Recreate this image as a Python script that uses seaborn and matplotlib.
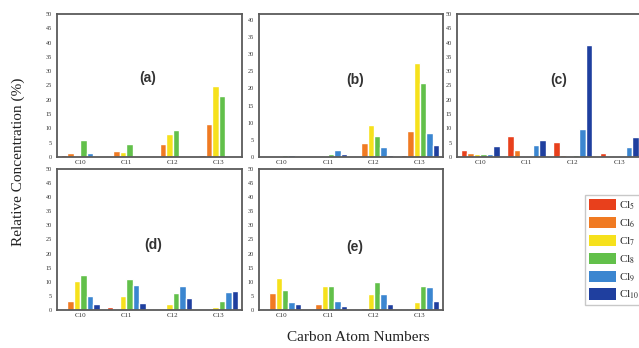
import matplotlib
matplotlib.use("Agg")
import matplotlib.pyplot as plt
from matplotlib.patches import Patch
from matplotlib.ticker import MultipleLocator, FixedLocator
import seaborn as sns
import pandas as pd

# --- datos ---
carbons = ["C10", "C11", "C12", "C13"]
chlorines = ["Cl5", "Cl6", "Cl7", "Cl8", "Cl9", "Cl10"]
legend_labels = ["Cl$_5$", "Cl$_6$", "Cl$_7$", "Cl$_8$", "Cl$_9$", "Cl$_{10}$"]
colors = ["#e8401c", "#f07a22", "#f6e11c", "#62c04a", "#3b86d0", "#1f3f9f"]

# valores por cloro (filas) x carbono (columnas)
vals_a = [[0.8, 0.4, 0.5, 0.7],
          [1.4, 2.1, 4.7, 11.6],
          [0.3, 1.7, 8.2, 24.9],
          [6.0, 4.4, 9.3, 21.3],
          [1.3, 0.0, 0.0, 0.0],
          [0.0, 0.0, 0.0, 0.0]]
vals_b = [[0.0, 0.3, 0.4, 0.5],
          [0.0, 0.3, 4.1, 7.5],
          [0.1, 0.4, 9.2, 27.4],
          [0.5, 0.9, 6.0, 21.6],
          [0.7, 1.9, 2.9, 7.1],
          [0.1, 0.8, 0.5, 3.5]]
vals_c = [[2.6, 7.4, 5.3, 1.5],
          [1.5, 2.3, 0.6, 0.4],
          [0.9, 0.0, 0.0, 0.0],
          [1.0, 0.4, 0.8, 0.2],
          [1.2, 4.3, 9.9, 3.5],
          [3.9, 6.1, 39.1, 7.0]]
vals_d = [[0.2, 0.9, 0.2, 0.0],
          [3.3, 0.1, 0.2, 0.0],
          [10.4, 5.1, 2.1, 1.2],
          [12.4, 11.0, 6.2, 3.3],
          [5.1, 8.9, 8.6, 6.5],
          [2.1, 2.6, 4.1, 6.8]]
vals_e = [[0.5, 0.3, 0.3, 0.3],
          [5.9, 2.1, 0.6, 0.0],
          [11.5, 8.6, 5.7, 3.0],
          [7.1, 8.6, 9.8, 8.6],
          [2.7, 3.3, 5.7, 8.3],
          [2.1, 1.5, 2.1, 3.3]]

panels = [
    ("(a)", vals_a, [0.0892, 0.5489, 0.2895, 0.4109], 50, (0.49, 0.55)),
    ("(b)", vals_b, [0.4053, 0.5489, 0.2880, 0.4109], 41.7, (0.52, 0.54)),
    ("(c)", vals_c, [0.7152, 0.5489, 0.2900, 0.4109], 50, (0.55, 0.54)),
    ("(d)", vals_d, [0.0892, 0.1092, 0.2895, 0.4052], 50, (0.52, 0.46)),
    ("(e)", vals_e, [0.4053, 0.1092, 0.2880, 0.4052], 50, (0.52, 0.45)),
]


def to_frame(vals):
    rows = []
    for cl, serie in zip(chlorines, vals):
        for c, v in zip(carbons, serie):
            rows.append({"carbon": c, "cl": cl, "value": v})
    return pd.DataFrame(rows)


sns.set_style("white")
plt.rcParams["font.family"] = ["Liberation Serif", "DejaVu Serif"]
plt.rcParams["mathtext.fontset"] = "stix"

fig = plt.figure(figsize=(6.39, 3.48), dpi=100)

for label, vals, pos, ymax, lpos in panels:
    ax = fig.add_axes(pos)
    df = to_frame(vals)
    sns.barplot(data=df, x="carbon", y="value", hue="cl", order=carbons,
                hue_order=chlorines, palette=colors, saturation=1,
                width=0.84, legend=False, ax=ax)
    ax.set_xlim(-0.5, 3.5)
    ax.set_ylim(0, ymax)
    ax.set_xlabel("")
    ax.set_ylabel("")
    ax.yaxis.set_major_locator(MultipleLocator(5))
    ax.yaxis.set_minor_locator(MultipleLocator(1))
    ax.xaxis.set_minor_locator(FixedLocator([0.5, 1.5, 2.5]))
    ax.tick_params(axis="y", which="major", direction="out", length=2.5,
                   width=0.7, labelsize=4.5, pad=1, colors="#555555",
                   labelcolor="#333333")
    ax.tick_params(axis="y", which="minor", direction="out", length=1.2,
                   width=0.5, colors="#555555")
    ax.tick_params(axis="x", which="major", direction="out", length=1.5,
                   width=0.6, labelsize=5, pad=1, colors="#555555",
                   labelcolor="#333333")
    ax.tick_params(axis="x", which="minor", direction="out", length=1.5,
                   width=0.6, colors="#777777")
    for s in ax.spines.values():
        s.set_color("#5a5a5a")
        s.set_linewidth(1.3)
    ax.text(lpos[0], lpos[1], label, transform=ax.transAxes, ha="center",
            va="center", fontsize=10, fontweight="bold",
            family="Liberation Sans", color="#333333")

fig.text(0.028, 0.535, "Relative Concentration (%)", rotation=90,
         ha="center", va="center", fontsize=11, color="#222222")
fig.text(0.56, 0.03, "Carbon Atom Numbers", ha="center", va="center",
         fontsize=11, color="#222222")

handles = [Patch(facecolor=c, edgecolor="none") for c in colors]
fig.legend(handles, legend_labels, loc="upper left",
           bbox_to_anchor=(0.916, 0.44), frameon=True, fontsize=8,
           handlelength=2.4, handleheight=1.2, handletextpad=0.25,
           labelspacing=0.45, borderpad=0.35, borderaxespad=0,
           edgecolor="#bbbbbb", fancybox=False)

plt.savefig("out.png", dpi=100)
